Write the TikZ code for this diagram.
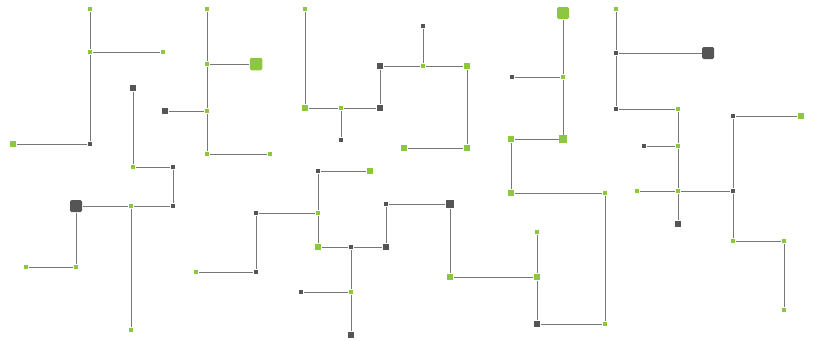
\documentclass[tikz,border=0pt]{standalone}
\definecolor{leaf}{HTML}{8DC63F}
\definecolor{slate}{HTML}{555555}
\definecolor{wire}{HTML}{777777}
\begin{document}
\begin{tikzpicture}[x=1pt,y=-1pt,color=wire,line width=1pt,
  gs/.style={fill=leaf,inner sep=0pt,minimum size=4.5pt},
  gm/.style={fill=leaf,inner sep=0pt,minimum size=6.5pt},
  gl/.style={fill=leaf,inner sep=0pt,minimum size=12.5pt,rounded corners=1.5pt},
  ds/.style={fill=slate,inner sep=0pt,minimum size=4.5pt},
  dm/.style={fill=slate,inner sep=0pt,minimum size=6.5pt},
  dl/.style={fill=slate,inner sep=0pt,minimum size=12pt,rounded corners=1.5pt}]
\useasboundingbox (0,0) rectangle (818,340);

\node (A) at (90,9) [gs] {};
\node (B) at (90,52) [gs] {};
\node (C) at (163,52) [gs] {};
\node (D) at (90,144) [ds] {};
\node (E) at (13,144) [gm] {};
\draw (A) -- (B);
\draw (B) -- (D);
\draw (B) -- (C);
\draw (E) -- (D);

\node (F) at (133,88) [dm] {};
\node (G) at (133,167) [gs] {};
\node (H) at (173,167) [ds] {};
\node (I) at (173,206) [ds] {};
\node (J) at (131,206) [gs] {};
\node (K) at (76,206) [dl] {};
\node (L) at (76,267) [gs] {};
\node (M) at (26,267) [gs] {};
\node (N) at (131,330) [gs] {};
\draw (F) -- (G);
\draw (G) -- (H);
\draw (H) -- (I);
\draw (I) -- (J);
\draw (J) -- (K);
\draw (K) -- (L);
\draw (L) -- (M);
\draw (J) -- (N);

\node (O) at (207,9) [gs] {};
\node (P) at (207,64) [gs] {};
\node (Q) at (256,64) [gl] {};
\node (R) at (207,111) [gs] {};
\node (S) at (165,111) [dm] {};
\node (T) at (207,154) [gs] {};
\node (U) at (270,154) [gs] {};
\draw (O) -- (P);
\draw (P) -- (R);
\draw (R) -- (T);
\draw (T) -- (U);
\draw (P) -- (Q);
\draw (S) -- (R);

\node (A2) at (305,9) [gs] {};
\node (B2) at (305,108) [gm] {};
\node (C2) at (341,108) [gs] {};
\node (D2) at (341,140) [ds] {};
\node (E2) at (380,108) [dm] {};
\node (F2) at (380,66) [dm] {};
\node (G2) at (423,66) [gs] {};
\node (H2) at (423,26) [ds] {};
\node (I2) at (467,66) [gm] {};
\node (J2) at (467,148) [gm] {};
\node (K2) at (404,148) [gm] {};
\draw (A2) -- (B2);
\draw (B2) -- (C2);
\draw (C2) -- (E2);
\draw (C2) -- (D2);
\draw (E2) -- (F2);
\draw (F2) -- (G2);
\draw (G2) -- (I2);
\draw (H2) -- (G2);
\draw (I2) -- (J2);
\draw (J2) -- (K2);

\node (A3) at (196,272) [gs] {};
\node (B3) at (256,272) [ds] {};
\node (C3) at (256,213) [ds] {};
\node (D3) at (318,213) [gs] {};
\node (E3) at (318,171) [ds] {};
\node (F3) at (370,171) [gm] {};
\node (G3) at (318,247) [gm] {};
\node (H3) at (351,247) [ds] {};
\node (I3) at (386,247) [dm] {};
\node (J3) at (386,204) [ds] {};
\node (K3) at (450,204) [dm,minimum size=8.5pt] {};
\node (L3) at (450,277) [gm] {};
\node (M3) at (537,277) [gm] {};
\node (N3) at (537,232) [gs] {};
\node (O3) at (537,324) [dm] {};
\node (P3) at (605,324) [gs] {};
\node (Q3) at (605,193) [gs] {};
\node (R3) at (511,193) [gm] {};
\node (S3) at (511,139) [gm] {};
\node (T3) at (563,139) [gm,minimum size=8pt] {};
\node (U3) at (563,77) [gs] {};
\node (V3) at (512,77) [ds] {};
\node (W3) at (563,13) [gl,minimum size=12pt] {};
\node (X3) at (351,292) [gs] {};
\node (Y3) at (301,292) [ds] {};
\node (Z3) at (351,335) [dm] {};
\draw (A3) -- (B3);
\draw (B3) -- (C3);
\draw (C3) -- (D3);
\draw (E3) -- (F3);
\draw (E3) -- (D3);
\draw (D3) -- (G3);
\draw (G3) -- (H3);
\draw (H3) -- (I3);
\draw (I3) -- (J3);
\draw (J3) -- (K3);
\draw (K3) -- (L3);
\draw (L3) -- (M3);
\draw (N3) -- (M3);
\draw (M3) -- (O3);
\draw (O3) -- (P3);
\draw (P3) -- (Q3);
\draw (Q3) -- (R3);
\draw (R3) -- (S3);
\draw (S3) -- (T3);
\draw (T3) -- (U3);
\draw (U3) -- (W3);
\draw (V3) -- (U3);
\draw (H3) -- (X3);
\draw (X3) -- (Z3);
\draw (Y3) -- (X3);

\node (A4) at (616,9) [gs] {};
\node (B4) at (616,53) [ds] {};
\node (C4) at (708,53) [dl] {};
\node (D4) at (616,109) [ds] {};
\node (E4) at (678,109) [gs] {};
\node (F4) at (678,146) [gs] {};
\node (G4) at (644,146) [ds] {};
\node (H4) at (678,191) [gs] {};
\node (I4) at (637,191) [gs] {};
\node (J4) at (733,191) [ds] {};
\node (K4) at (678,224) [dm] {};
\node (L4) at (733,116) [ds] {};
\node (M4) at (801,116) [gm] {};
\node (N4) at (733,241) [gs] {};
\node (O4) at (784,241) [gs] {};
\node (P4) at (784,310) [gs] {};
\draw (A4) -- (B4);
\draw (B4) -- (D4);
\draw (B4) -- (C4);
\draw (D4) -- (E4);
\draw (E4) -- (F4);
\draw (F4) -- (H4);
\draw (H4) -- (K4);
\draw (G4) -- (F4);
\draw (I4) -- (H4);
\draw (H4) -- (J4);
\draw (L4) -- (M4);
\draw (L4) -- (J4);
\draw (J4) -- (N4);
\draw (N4) -- (O4);
\draw (O4) -- (P4);
\end{tikzpicture}
\end{document}
